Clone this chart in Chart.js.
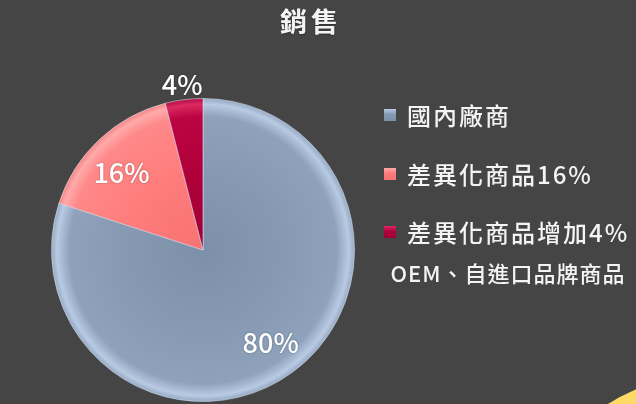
<!DOCTYPE html>
<html>
<head>
<meta charset="utf-8">
<script src="https://cdn.jsdelivr.net/npm/chart.js@4/dist/chart.umd.min.js"></script>
<style>
    html, body { margin: 0; padding: 0; }
    body {
        width: 636px; height: 404px; overflow: hidden; position: relative;
        background: #454545;
        font-family: "Noto Sans CJK TC", "Noto Sans", sans-serif;
        color: #f4f4f4;
    }
    #salesChart { position: absolute; left: 0; top: 0; }
    #title {
        position: absolute; left: 237px; width: 140px; top: 3px;
        text-align: center; font-size: 27px; font-weight: bold;
        letter-spacing: 4px; padding-left: 4px; line-height: 36px;
        text-shadow: 0 1px 2px rgba(0,0,0,0.35);
    }
    .lg-item { position: absolute; left: 384px; height: 28px; line-height: 28px; white-space: nowrap; }
    .lg-box { position: absolute; left: 0; top: 8px; width: 12px; height: 12px; }
    .lg-text { position: absolute; left: 23px; top: 0; font-size: 24px; letter-spacing: 2px; font-weight: 500; }
    .lg-sub { position: absolute; left: 384px; width: 248px; text-align: center; font-size: 22px; letter-spacing: 1px; line-height: 28px; white-space: nowrap; font-weight: 500; }
    #corner {
        position: absolute; left: 529px; top: 377px; width: 342px; height: 342px;
        border-radius: 50%; background: #ffd966;
    }
</style>
</head>
<body>
<canvas id="salesChart" width="636" height="404"></canvas>
<div id="title"></div>
<div id="legend"></div>
<div id="corner"></div>
<script>
// ---- data ----
const chartTitle = '銷售';
const categories = ['國內廠商', '差異化商品16%', '差異化商品增加4%'];
const categoryNotes = ['', '', 'OEM、自進口品牌商品'];
const salesValues = [80, 16, 4];

// ---- look ----
const baseColors = ['#8497b0', '#ff7c7c', '#b0003a'];
const shades = [
    ['#7d90aa', '#8699b3', '#8fa2bc', '#b9cbe3', '#93a6c0'],
    ['#f77272', '#ff7c7c', '#ff8888', '#ffaaaa', '#f88080'],
    ['#a00034', '#b0003a', '#bc0442', '#dc2a62', '#b00a40']
];
const labelDist = [0.76, 0.74, 1.10];
const labelTurn = [0, -0.06, 0];

function sliceFill(c) {
    const i = c.dataIndex;
    const a = c.chart.chartArea;
    if (!a) return baseColors[i];
    const cx = (a.left + a.right) / 2, cy = (a.top + a.bottom) / 2;
    const r = Math.min(a.width, a.height) / 2;
    const g = c.chart.ctx.createRadialGradient(cx, cy, 0, cx, cy, r);
    const s = shades[i];
    g.addColorStop(0, s[0]);
    g.addColorStop(0.5, s[1]);
    g.addColorStop(0.88, s[2]);
    g.addColorStop(0.96, s[3]);
    g.addColorStop(1, s[4]);
    return g;
}

const sliceLabels = {
    id: 'sliceLabels',
    afterDatasetsDraw(chart) {
        const ctx = chart.ctx;
        const meta = chart.getDatasetMeta(0);
        const total = salesValues.reduce((a, b) => a + b, 0);
        ctx.save();
        ctx.font = '500 27px "Noto Sans CJK TC", "Noto Sans", sans-serif';
        ctx.fillStyle = '#ffffff';
        ctx.textAlign = 'center';
        ctx.textBaseline = 'middle';
        ctx.shadowColor = 'rgba(0,0,0,0.35)';
        ctx.shadowBlur = 2;
        meta.data.forEach((arc, i) => {
            const p = arc.getProps(['x', 'y', 'startAngle', 'endAngle', 'outerRadius'], true);
            const mid = (p.startAngle + p.endAngle) / 2 + labelTurn[i];
            const d = p.outerRadius * labelDist[i];
            const pct = Math.round(salesValues[i] / total * 100) + '%';
            ctx.fillText(pct, p.x + Math.cos(mid) * d, p.y + Math.sin(mid) * d);
        });
        ctx.restore();
    }
};

new Chart(document.getElementById('salesChart'), {
    type: 'pie',
    data: {
        labels: categories,
        datasets: [{
            data: salesValues,
            backgroundColor: sliceFill,
            borderColor: 'rgba(215,228,245,0.55)',
            borderWidth: 1
        }]
    },
    options: {
        responsive: false,
        animation: false,
        layout: { padding: { left: 51, top: 98, right: 281, bottom: 2 } },
        plugins: { legend: { display: false }, tooltip: { enabled: false } }
    },
    plugins: [sliceLabels]
});

// title and legend
document.getElementById('title').textContent = chartTitle;
const legendEl = document.getElementById('legend');
categories.forEach((name, i) => {
    const top = 101 + i * 58.5;
    const item = document.createElement('div');
    item.className = 'lg-item';
    item.style.top = top + 'px';
    const s = shades[i];
    item.innerHTML = `<span class="lg-box" style="background:linear-gradient(180deg, ${s[3]} 0%, ${s[1]} 45%, ${s[0]} 100%)"></span><span class="lg-text">${name}</span>`;
    legendEl.appendChild(item);
    if (categoryNotes[i]) {
        const sub = document.createElement('div');
        sub.className = 'lg-sub';
        sub.style.top = (top + 40) + 'px';
        sub.textContent = categoryNotes[i];
        legendEl.appendChild(sub);
    }
});
</script>
</body>
</html>
